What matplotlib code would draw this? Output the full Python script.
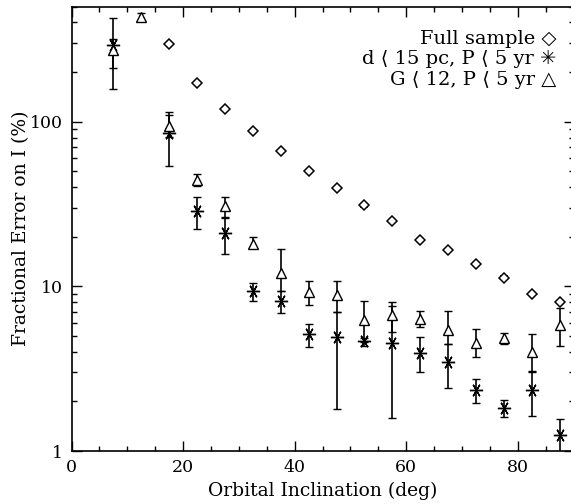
import numpy as np
import matplotlib
matplotlib.use("Agg")
import matplotlib.pyplot as plt
from matplotlib.ticker import FixedLocator, LogLocator, NullFormatter, MultipleLocator, FuncFormatter

nan = np.nan
inclination = [7.5, 12.5, 17.5, 22.5, 27.5, 32.5, 37.5, 42.5, 47.5, 52.5,
               57.5, 62.5, 67.5, 72.5, 77.5, 82.5, 87.5]

# Full sample (diamonds)
full_val = [nan, nan, 294, 172, 120, 88, 66, 50, 39.4, 31, 25, 19.1, 16.6, 13.6, 11.3, 9.0, 8.0]
full_err = [nan, nan, 4, 2.5, 1.8, 1.3, 1.0, 0.8, 0.6, 0.5, 0.4, 0.3, 0.25, 0.2, 0.17, 0.14, 0.12]

# d < 15 pc, P < 5 yr (asterisks)
near_val = [292, nan, 85, 28.8, 21.0, 9.4, 8.1, 5.1, 4.95, 4.65, 4.55, 3.95, 3.45, 2.35, 1.82, 2.35, 1.25]
near_lo  = [158, nan, 54, 22.2, 15.7, 8.2, 6.9, 4.3, 1.8, 4.35, 1.58, 3.0, 2.42, 1.95, 1.61, 1.64, 0.9]
near_hi  = [424, nan, 110, 35.0, 25.9, 10.5, 9.3, 5.9, 7.0, 4.85, 7.6, 4.9, 4.46, 2.74, 2.04, 3.03, 1.56]

# G < 12, P < 5 yr (triangles)
bright_val = [272, 430, 94, 44.2, 30.7, 18.1, 12.0, 9.2, 8.9, 6.2, 6.7, 6.33, 5.43, 4.55, 4.83, 4.0, 5.82]
bright_lo  = [212, 410, 81, 40.8, 26.5, 17.0, 9.3, 7.7, 7.0, 4.6, 5.3, 5.68, 4.46, 3.74, 4.46, 3.07, 4.34]
bright_hi  = [316, 459, 114, 48.1, 35.0, 19.8, 16.8, 10.7, 10.7, 8.1, 8.06, 7.06, 7.1, 5.49, 5.2, 5.13, 7.35]

legend_labels = ["Full sample \u25c7",
                 "d \u27e8 15 pc, P \u27e8 5 yr \u2733",
                 "G \u27e8 12, P \u27e8 5 yr \u25b3"]

plt.rcParams['font.family'] = ['DejaVu Serif', 'DejaVu Sans']
plt.rcParams['font.size'] = 12

fig = plt.figure(figsize=(5.71, 5.04), dpi=100)
ax = fig.add_axes([71.6 / 571, 53 / 504, 502 / 571, 444.5 / 504])

x = np.array(inclination)

def yerr(v, lo, hi):
    v = np.array(v, float); lo = np.array(lo, float); hi = np.array(hi, float)
    return np.vstack([v - lo, hi - v])

ekw = dict(ecolor='black', elinewidth=1.2, capsize=3.2, capthick=1.3, linestyle='none')

ax.errorbar(x, full_val, yerr=np.vstack([full_err, full_err]), marker='D', ms=5.4,
            mfc='white', mec='black', mew=1.1, **ekw, zorder=3)
ax.errorbar(x, near_val, yerr=yerr(near_val, near_lo, near_hi), marker=(6, 2, 90), ms=9.5,
            mfc='none', mec='black', mew=1.0, **ekw, zorder=4)
ax.errorbar(x, bright_val, yerr=yerr(bright_val, bright_lo, bright_hi), marker='^', ms=7.5,
            mfc='white', mec='black', mew=1.0, **ekw, zorder=5)

ax.set_yscale('log')
ax.set_xlim(0, 90)
ax.set_ylim(1, 500)
ax.xaxis.set_major_locator(MultipleLocator(20))
ax.xaxis.set_minor_locator(MultipleLocator(5))
ax.yaxis.set_major_locator(FixedLocator([1, 10, 100]))
ax.yaxis.set_major_formatter(FuncFormatter(lambda v, p: f"{v:g}"))
ax.yaxis.set_minor_locator(LogLocator(base=10, subs=np.arange(2, 10)))
ax.yaxis.set_minor_formatter(NullFormatter())
ax.tick_params(which='both', direction='in', top=True, right=True, width=1.0, labelsize=12.5, pad=6)
ax.tick_params(which='major', length=7)
ax.tick_params(which='minor', length=3.5)
for s in ax.spines.values():
    s.set_linewidth(1.2)

ax.set_xlabel("Orbital Inclination (deg)", fontsize=13.5, labelpad=4)
ax.set_ylabel("Fractional Error on I (%)", fontsize=13.5, labelpad=0)

for i, lab in enumerate(legend_labels):
    fig.text(556 / 571, 1 - (39 + 20.5 * i) / 504, lab, ha='right', va='center',
             fontsize=14)

fig.savefig("out.png", dpi=100)
